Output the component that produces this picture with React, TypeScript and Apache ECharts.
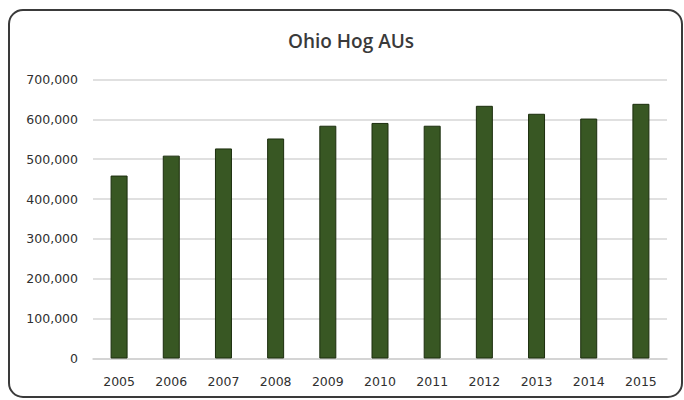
import React, { useEffect, useRef } from "react";
import * as echarts from "echarts";

const titleText = "Ohio Hog AUs";
const years = ["2005", "2006", "2007", "2008", "2009", "2010", "2011", "2012", "2013", "2014", "2015"];
const hogAUs = [459000, 509000, 527000, 552000, 584000, 591000, 584000, 634000, 614000, 602000, 639000];
const yMax = 700000;
const yStep = 100000;

export default function App() {
  const ref = useRef<HTMLDivElement>(null);
  useEffect(() => {
    if (!ref.current) return;
    const chart = echarts.init(ref.current, null, { renderer: "svg" });
    chart.setOption({
      animation: false,
      backgroundColor: "#ffffff",
      graphic: [
        {
          type: "rect",
          shape: { x: 9, y: 10, width: 673, height: 387, r: 14 },
          style: { fill: "none", stroke: "#3a3a3a", lineWidth: 2 },
          silent: true,
        },
        {
          type: "text",
          x: 351,
          y: 41,
          style: {
            text: titleText,
            fill: "#3a3a3a",
            font: "600 19px 'Open Sans'",
            textAlign: "center",
            textVerticalAlign: "middle",
          },
        },
      ],
      grid: {
        left: 93,
        right: 17,
        top: 79.5,
        bottom: 41.5,
        containLabel: false,
        outerBoundsMode: "none",
      },
      xAxis: {
        type: "category",
        data: years,
        axisLine: { show: true, lineStyle: { color: "#d0d0d0", width: 1.5 } },
        axisTick: { show: false },
        axisLabel: {
          color: "#303030",
          fontFamily: "DejaVu Sans",
          fontSize: 12.5,
          margin: 16,
        },
      },
      yAxis: {
        type: "value",
        min: 0,
        max: yMax,
        interval: yStep,
        axisLine: { show: false },
        axisTick: { show: false },
        splitLine: { lineStyle: { color: "#d6d6d6", width: 1.5 } },
        axisLabel: {
          color: "#303030",
          fontFamily: "DejaVu Sans",
          fontSize: 12.5,
          margin: 15,
          formatter: (v: number) => v.toLocaleString("en-US"),
        },
      },
      series: [
        {
          type: "bar",
          data: hogAUs,
          barWidth: 17,
          itemStyle: { color: "#385723", borderColor: "#1c2e0e", borderWidth: 1 },
        },
      ],
    });
    return () => chart.dispose();
  }, []);
  return (
    <div
      ref={ref}
      style={{ position: "absolute", left: 0, top: 0, width: 684, height: 400, background: "#fff" }}
    />
  );
}
